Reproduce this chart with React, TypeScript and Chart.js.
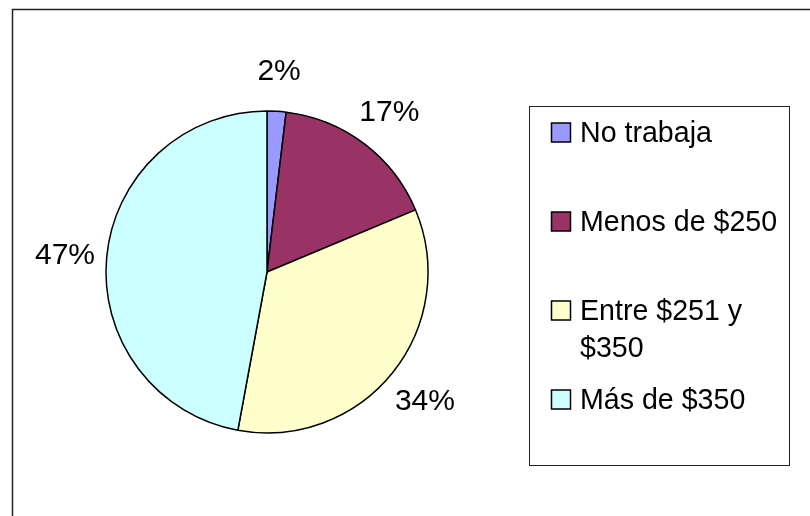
import React, { useEffect, useRef } from 'react';
import { Chart, registerables } from 'chart.js';

Chart.register(...registerables);

const categories = ['No trabaja', 'Menos de $250', 'Entre $251 y $350', 'Más de $350'];
const shares = [1.9, 16.8, 34.2, 47.1];
const percentLabels = ['2%', '17%', '34%', '47%'];
const sliceColors = ['#9999FF', '#993366', '#FFFFCC', '#CCFFFF'];

const FONT = '"Liberation Sans", Arial, sans-serif';

const framePlugin = {
  id: 'frame',
  beforeDraw(chart: any) {
    const ctx = chart.ctx;
    ctx.save();
    ctx.fillStyle = '#ffffff';
    ctx.fillRect(0, 0, chart.width, chart.height);
    ctx.strokeStyle = '#222222';
    ctx.lineWidth = 1.5;
    ctx.strokeRect(12.5, 9.5, chart.width + 20, chart.height + 20);
    ctx.restore();
  },
};

const labelPlugin = {
  id: 'pctLabels',
  afterDatasetsDraw(chart: any) {
    const ctx = chart.ctx;
    const meta = chart.getDatasetMeta(0);
    const size = 30;
    ctx.save();
    ctx.font = `${size}px ${FONT}`;
    ctx.fillStyle = '#000';
    ctx.textAlign = 'center';
    ctx.textBaseline = 'alphabetic';
    meta.data.forEach((arc: any, i: number) => {
      const { x, y, startAngle, endAngle, outerRadius } = arc.getProps(
        ['x', 'y', 'startAngle', 'endAngle', 'outerRadius'],
        true
      );
      const mid = (startAngle + endAngle) / 2;
      const d = outerRadius * 1.26;
      const lx = x + Math.cos(mid) * d;
      const ly = y + Math.sin(mid) * d;
      ctx.fillText(percentLabels[i], lx, ly + size * 0.358);
    });
    ctx.restore();
  },
};

const legendPlugin = {
  id: 'boxLegend',
  afterDraw(chart: any) {
    const ctx = chart.ctx;
    const box = { x: 529.5, y: 106.5, w: 260, h: 359 };
    const size = 28.6;
    const marker = 19;
    const markerX = 551.5;
    const textX = 580;
    const firstBaseline = 142;
    const step = 89;
    const lineH = 36.5;
    ctx.save();
    ctx.strokeStyle = '#222';
    ctx.lineWidth = 1;
    ctx.strokeRect(box.x, box.y, box.w, box.h);
    ctx.font = `${size}px ${FONT}`;
    ctx.textAlign = 'left';
    ctx.textBaseline = 'alphabetic';
    const maxW = box.x + box.w - 4 - textX;
    const labels = chart.data.labels as string[];
    const colors = chart.data.datasets[0].backgroundColor as string[];
    labels.forEach((label, i) => {
      const base = firstBaseline + i * step;
      ctx.fillStyle = colors[i];
      ctx.fillRect(markerX, base - marker, marker, marker);
      ctx.strokeStyle = '#000';
      ctx.lineWidth = 1.5;
      ctx.strokeRect(markerX, base - marker, marker, marker);
      const words = label.split(' ');
      const lines: string[] = [];
      let cur = '';
      words.forEach((w) => {
        const test = cur ? cur + ' ' + w : w;
        if (ctx.measureText(test).width > maxW && cur) {
          lines.push(cur);
          cur = w;
        } else cur = test;
      });
      if (cur) lines.push(cur);
      ctx.fillStyle = '#000';
      lines.forEach((ln, j) => ctx.fillText(ln, textX, base + j * lineH));
    });
    ctx.restore();
  },
};

export default function App() {
  const ref = useRef<HTMLCanvasElement | null>(null);
  useEffect(() => {
    if (!ref.current) return;
    const chart = new Chart(ref.current, {
      type: 'pie',
      data: {
        labels: categories,
        datasets: [
          {
            data: shares,
            backgroundColor: sliceColors,
            borderColor: '#000',
            borderWidth: 1.5,
            radius: 161,
          } as any,
        ],
      },
      options: {
        responsive: false,
        animation: false,
        layout: { padding: { left: 0, right: 276, top: 28, bottom: 0 } },
        plugins: {
          legend: { display: false },
          tooltip: { enabled: false },
          title: { display: false },
        },
      },
      plugins: [framePlugin, labelPlugin, legendPlugin],
    });
    return () => chart.destroy();
  }, []);
  return (
    <div style={{ position: 'fixed', left: 0, top: 0, width: 810, height: 516 }}>
      <canvas ref={ref} width={810} height={516} style={{ display: 'block' }} />
    </div>
  );
}
